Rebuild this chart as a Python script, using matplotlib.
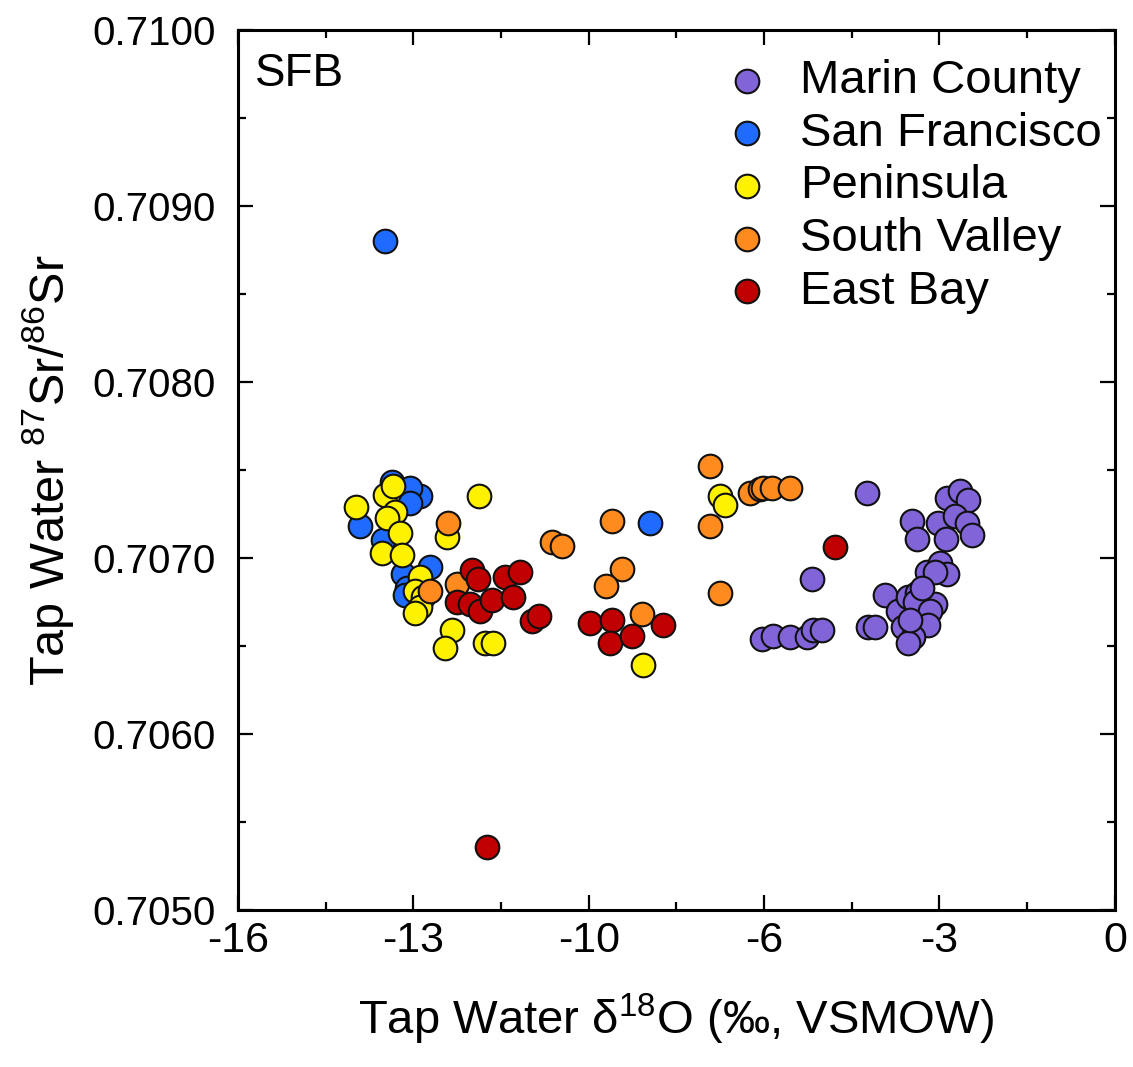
import numpy as np
import matplotlib
matplotlib.use("Agg")
import matplotlib.pyplot as plt
from matplotlib.ticker import MultipleLocator, FormatStrFormatter

plt.rcParams["font.family"] = ["Liberation Sans", "DejaVu Sans"]
plt.rcParams["mathtext.default"] = "regular"

# tap water d18O (permil) and 87Sr/86Sr by region
marin_d18o = [-4.52, -5.53, -6.44, -6.24, -5.93, -5.62, -5.51, -5.34, -4.50, -3.70,
              -3.61, -3.06, -2.82, -2.68, -3.23, -2.92, -2.70, -2.61, -3.08, -3.43,
              -3.19, -3.06, -3.28, -4.19, -3.96, -3.77, -3.61, -3.65, -3.28, -3.37,
              -3.41, -3.86, -4.38, -3.68, -3.77, -3.52, -3.74]
marin_sr = [0.70737, 0.70688, 0.70654, 0.70656, 0.70655, 0.70655, 0.70659, 0.70659, 0.70661, 0.70721,
            0.70711, 0.70734, 0.70738, 0.70733, 0.70720, 0.70724, 0.70720, 0.70713, 0.70711, 0.70692,
            0.70697, 0.70691, 0.70692, 0.70679, 0.70670, 0.70678, 0.70680, 0.70675, 0.70674, 0.70670,
            0.70662, 0.70661, 0.70661, 0.70655, 0.70652, 0.70683, 0.70665]

sf_d18o = [-13.32, -13.77, -12.68, -12.50, -13.19, -12.86, -12.99, -13.35, -12.92, -12.86,
           -8.48, -12.95]
sf_sr = [0.70880, 0.70718, 0.70735, 0.70695, 0.70743, 0.70740, 0.70691, 0.70710, 0.70683, 0.70731,
         0.70720, 0.70679]

pen_d18o = [-13.85, -13.32, -13.17, -13.14, -13.28, -13.04, -13.37, -13.01, -12.68, -12.77,
            -12.62, -12.68, -12.77, -11.60, -12.19, -12.09, -12.22, -11.49, -11.35, -7.20,
            -7.11, -8.61]
pen_sr = [0.70729, 0.70736, 0.70741, 0.70726, 0.70723, 0.70714, 0.70703, 0.70702, 0.70689, 0.70681,
          0.70678, 0.70672, 0.70669, 0.70735, 0.70712, 0.70659, 0.70649, 0.70652, 0.70652, 0.70735,
          0.70730, 0.70639]

sv_d18o = [-12.17, -12.00, -12.50, -10.27, -10.09, -9.18, -8.99, -9.28, -8.63, -7.39,
           -7.39, -7.20, -6.66, -6.47, -6.42, -6.26, -5.93]
sv_sr = [0.70720, 0.70685, 0.70681, 0.70709, 0.70707, 0.70721, 0.70694, 0.70684, 0.70668, 0.70752,
         0.70718, 0.70680, 0.70737, 0.70739, 0.70740, 0.70740, 0.70740]

eb_d18o = [-11.73, -11.62, -11.13, -10.85, -12.00, -11.77, -11.58, -11.36, -10.98, -10.64,
           -10.51, -9.58, -9.18, -9.21, -8.81, -8.24, -5.11, -11.46]
eb_sr = [0.70693, 0.70688, 0.70689, 0.70692, 0.70675, 0.70674, 0.70670, 0.70676, 0.70678, 0.70664,
         0.70667, 0.70663, 0.70665, 0.70652, 0.70656, 0.70662, 0.70706, 0.70536]

groups = [
    ("Marin County", marin_d18o, marin_sr, "#8064d8"),
    ("San Francisco", sf_d18o, sf_sr, "#1f6bff"),
    ("Peninsula", pen_d18o, pen_sr, "#fff200"),
    ("South Valley", sv_d18o, sv_sr, "#ff8a1e"),
    ("East Bay", eb_d18o, eb_sr, "#c00000"),
]

fig = plt.figure(figsize=(11.33, 10.67), dpi=100)
ax = fig.add_axes([0.210, 0.147, 0.774, 0.825])

for name, x, y, c in groups:
    ax.scatter(x, y, s=290, c=c, edgecolors="#111111", linewidths=1.5, label=name, zorder=3)

ax.set_xlim(-16, 0)
ax.set_ylim(0.705, 0.710)
ax.set_xticks(np.linspace(-16, 0, 6))
ax.xaxis.set_major_formatter(FormatStrFormatter("%.0f"))
ax.xaxis.set_minor_locator(MultipleLocator(1.6))
ax.yaxis.set_major_locator(MultipleLocator(0.001))
ax.yaxis.set_minor_locator(MultipleLocator(0.0005))
ax.yaxis.set_major_formatter(FormatStrFormatter("%.4f"))

for s in ax.spines.values():
    s.set_linewidth(2.2)
ax.tick_params(which="both", direction="in", top=True, right=True, width=1.6)
ax.tick_params(which="major", length=11)
ax.tick_params(which="minor", length=6)
ax.tick_params(axis="x", labelsize=31, pad=8)
ax.tick_params(axis="y", labelsize=29, pad=16)

ax.set_xlabel("Tap Water δ$^{18}$O (‰, VSMOW)", fontsize=34, labelpad=22)
ax.set_ylabel("Tap Water $^{87}$Sr/$^{86}$Sr", fontsize=35, labelpad=12)

ax.text(0.02, 0.975, "SFB", transform=ax.transAxes, fontsize=33, va="top", ha="left")

ax.legend(loc="upper left", bbox_to_anchor=(0.5536, 0.967), frameon=False,
          fontsize=34, borderpad=0, handlelength=1.0, handletextpad=0.63,
          labelspacing=0.185, borderaxespad=0, markerscale=1.0)

fig.savefig("out.png", dpi=100)
